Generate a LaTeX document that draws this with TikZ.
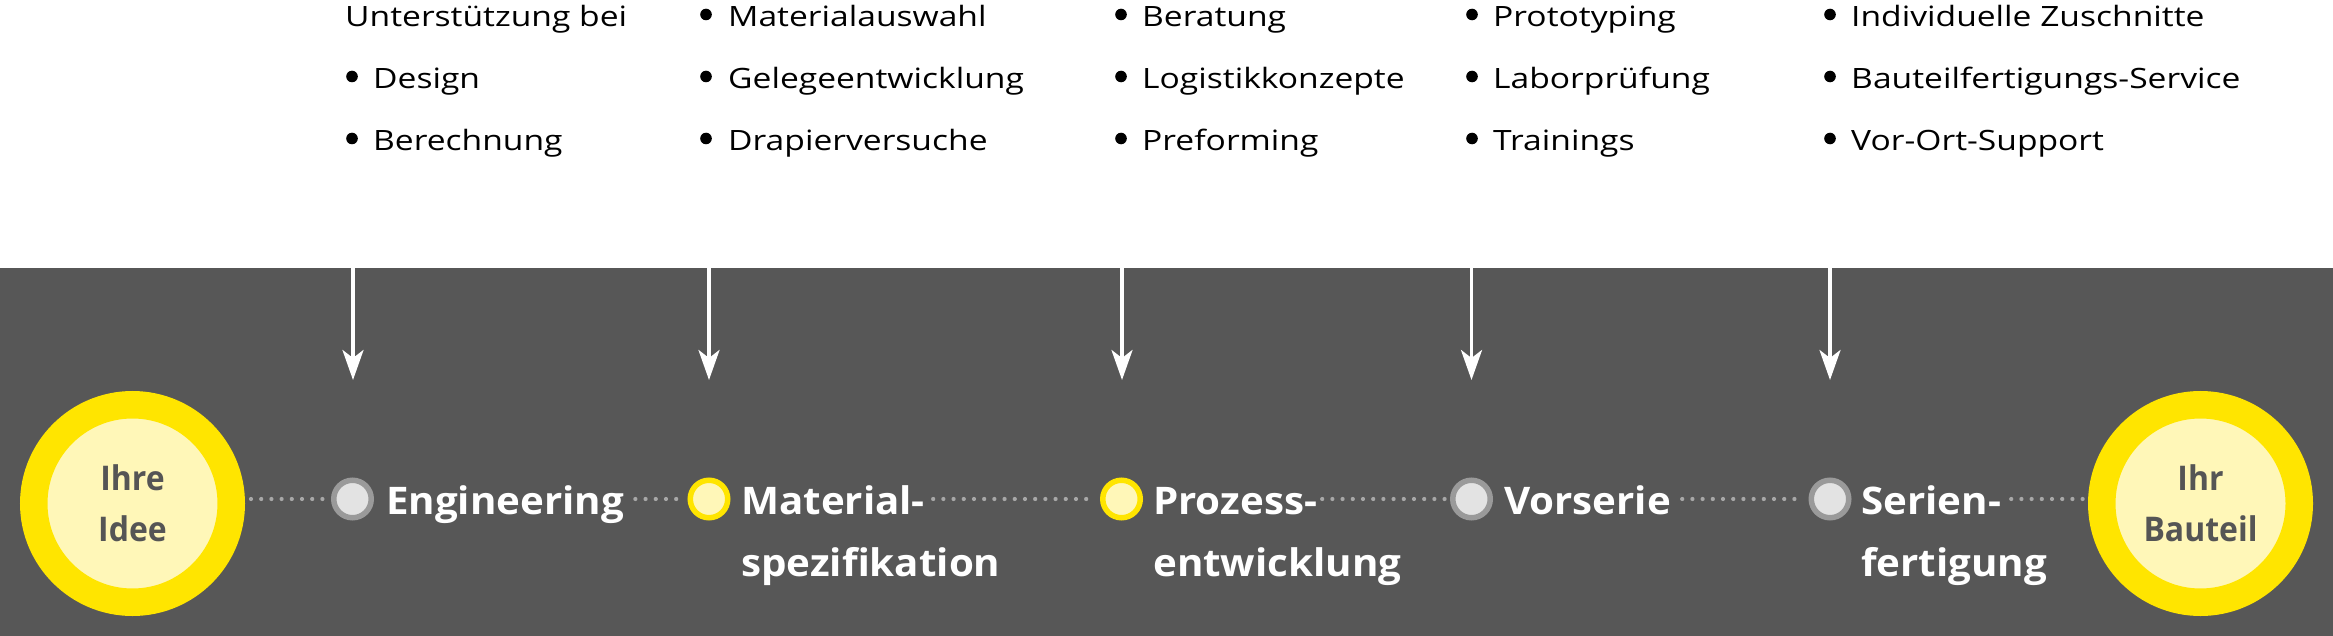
\documentclass[tikz,border=0pt]{standalone}
\usepackage{fontspec}
\setmainfont{Open Sans}
\newfontfamily\topfont[FakeStretch=1.2]{Open Sans}
\newfontfamily\labfont[FakeStretch=1.06]{Open Sans}
\newfontfamily\circfont[FakeStretch=0.94]{Open Sans}
\usetikzlibrary{arrows.meta}
\definecolor{band}{HTML}{575757}
\definecolor{ylw}{HTML}{FFE500}
\definecolor{lylw}{HTML}{FFF7B8}
\definecolor{gring}{HTML}{9A9A9A}
\definecolor{gfill}{HTML}{E3E3E3}
\definecolor{dotc}{HTML}{A8A8A8}
\definecolor{ctext}{HTML}{555555}
\begin{document}
\begin{tikzpicture}[x=1pt,y=-1pt,
  bigcirc/.style={circle,fill=lylw,draw=ylw,line width=27.5pt,minimum size=197.5pt,inner sep=0pt,
     font=\circfont\bfseries\fontsize{34}{50.6}\selectfont,text=ctext,align=center},
  ydot/.style={circle,fill=lylw,draw=ylw,line width=5.5pt,minimum size=37.5pt,inner sep=0pt},
  gdot/.style={circle,fill=gfill,draw=gring,line width=5.5pt,minimum size=37.5pt,inner sep=0pt},
  lab/.style={anchor=base west,inner sep=0pt,text=white,font=\labfont\bfseries\fontsize{38}{62}\selectfont},
  toptext/.style={anchor=base west,inner sep=0pt,text=black,font=\topfont\fontsize{28}{62}\selectfont},
  dotline/.style={draw=dotc,line width=4.2pt,line cap=round,dash pattern=on 0pt off 10.2pt},
  arr/.style={draw=white,line width=3.5pt,-{Stealth[length=30pt,width=21pt,inset=8pt]}},
  bul/.style={fill=black}
]
\useasboundingbox (0,0) rectangle (2333,636);
\fill[white] (0,0) rectangle (2333,268);
\fill[band] (0,268) rectangle (2333,636);

% top texts
\node[toptext] (c1a) at (345,27) {Unterstützung bei};
\node[toptext] (c1b) at (373,89) {Design};
\node[toptext] (c1c) at (373,151) {Berechnung};
\node[toptext] (c2a) at (728,27) {Materialauswahl};
\node[toptext] (c2b) at (728,89) {Gelegeentwicklung};
\node[toptext] (c2c) at (728,151) {Drapierversuche};
\node[toptext] (c3a) at (1142,27) {Beratung};
\node[toptext] (c3b) at (1142,89) {Logistikkonzepte};
\node[toptext] (c3c) at (1142,151) {Preforming};
\node[toptext] (c4a) at (1493,27) {Prototyping};
\node[toptext] (c4b) at (1493,89) {Laborprüfung};
\node[toptext] (c4c) at (1493,151) {Trainings};
\node[toptext] (c5a) at (1851,27) {Individuelle Zuschnitte};
\node[toptext] (c5b) at (1851,89) {Bauteilfertigungs-Service};
\node[toptext] (c5c) at (1851,151) {Vor-Ort-Support};
\foreach \bx/\by in {352/76.5,352/138.5,
  706/14.5,706/76.5,706/138.5,
  1121/14.5,1121/76.5,1121/138.5,
  1472/14.5,1472/76.5,1472/138.5,
  1830/14.5,1830/76.5,1830/138.5}
  \fill[bul] (\bx,\by) circle (5.8pt);

% arrows
\coordinate (t1) at (353,262); \coordinate (h1) at (353,380);
\coordinate (t2) at (709,262); \coordinate (h2) at (709,380);
\coordinate (t3) at (1122,262); \coordinate (h3) at (1122,380);
\coordinate (t4) at (1471.5,262); \coordinate (h4) at (1471.5,380);
\coordinate (t5) at (1830,262); \coordinate (h5) at (1830,380);
\draw[arr] (t1) -- (h1);
\draw[arr] (t2) -- (h2);
\draw[arr] (t3) -- (h3);
\draw[arr] (t4) -- (h4);
\draw[arr] (t5) -- (h5);

% big circles
\node[bigcirc] (idee) at (132.5,503.5) {Ihre\\Idee};
\node[bigcirc] (bauteil) at (2200.5,503.5) {Ihr\\Bauteil};

% dots
\node[gdot] (d1) at (352.5,499) {};
\node[ydot] (d2) at (709,499) {};
\node[ydot] (d3) at (1121.5,499) {};
\node[gdot] (d4) at (1471.5,499) {};
\node[gdot] (d5) at (1830,499) {};

% labels
\node[lab] (l1) at (386,514) {Engineering};
\node[lab] (l2) at (741,514) {Material-};
\node[lab] (l2b) at (741,576) {spezifikation};
\node[lab] (l3) at (1153,514) {Prozess-};
\node[lab] (l3b) at (1153,576) {entwicklung};
\node[lab] (l4) at (1504,514) {Vorserie};
\node[lab] (l5) at (1861,514) {Serien-};
\node[lab] (l5b) at (1861,576) {fertigung};

% dotted connectors
\draw[dotline,shorten <=6pt,shorten >=4pt] (d1 -| idee.east) -- (d1);
\draw[dotline,shorten <=11pt,shorten >=4pt] (d2 -| l1.east) -- (d2);
\draw[dotline,shorten <=8pt,shorten >=4pt] (d3 -| l2.east) -- (d3);
\draw[dotline,shorten <=5pt,shorten >=4pt] (d4 -| l3.east) -- (d4);
\draw[dotline,shorten <=11pt,shorten >=4pt] (d5 -| l4.east) -- (d5);
\draw[dotline,shorten <=10pt,shorten >=4pt] (d5 -| l5.east) -- (d5 -| bauteil.west);
\end{tikzpicture}
\end{document}
